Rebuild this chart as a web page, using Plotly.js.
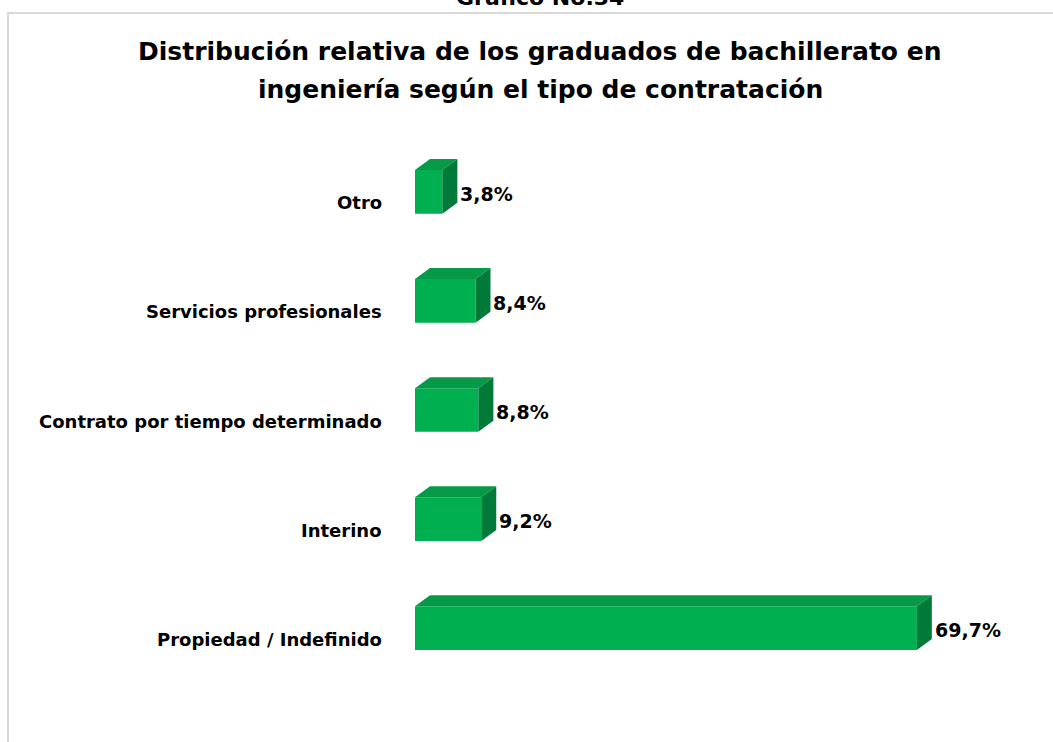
<!DOCTYPE html>
<html><head><meta charset="utf-8">
<script src="https://cdn.plot.ly/plotly-3.0.1.min.js"></script>
<style>body{margin:0;background:#fff}#chart{width:1053px;height:742px}</style>
</head><body><div id="chart"></div>
<script>
// Data (bottom to top)
const categories = ["Propiedad / Indefinido", "Interino", "Contrato por tiempo determinado", "Servicios profesionales", "Otro"];
const values = [69.7, 9.2, 8.8, 8.4, 3.8];
const valueLabels = ["69,7%", "9,2%", "8,8%", "8,4%", "3,8%"];
const titleLines = ["Distribución relativa de los graduados de bachillerato en", "ingeniería según el tipo de contratación"];
const supTitle = "Gráfico No.34";

const W = 1053, H = 742;
const margin = {l: 415, r: 26, t: 110, b: 32};
const xRange = [0, 85];
const yRange = [-0.75, 4.75];
const plotW = W - margin.l - margin.r, plotH = H - margin.t - margin.b;
const pxPerX = plotW / (xRange[1] - xRange[0]);
const pxPerY = plotH / (yRange[1] - yRange[0]);
const barW = 0.4;
const dx = 15 / pxPerX;   // depth in data units
const dy = 11 / pxPerY;

const front = '#00B050', topC = '#069A48', sideC = '#007A38';
const FONT = 'DejaVu Sans, sans-serif';

const pos = categories.map((c, i) => i);
const traces = [{
  type: 'bar', orientation: 'h', x: values, y: pos, width: barW,
  marker: {color: front, line: {width: 0}}, hoverinfo: 'skip'
}];

const shapes = [];
values.forEach((v, i) => {
  const y0 = i - barW / 2, y1 = i + barW / 2;
  shapes.push({type: 'path', xref: 'x', yref: 'y', layer: 'above',
    path: `M0,${y1} L${dx},${y1 + dy} L${v + dx},${y1 + dy} L${v},${y1} Z`,
    fillcolor: topC, line: {width: 0}});
  shapes.push({type: 'path', xref: 'x', yref: 'y', layer: 'above',
    path: `M${v},${y0} L${v},${y1} L${v + dx},${y1 + dy} L${v + dx},${y0 + dy} Z`,
    fillcolor: sideC, line: {width: 0}});
});
// outer border
const px2paperX = p => (p - margin.l) / plotW;
const px2paperY = p => (H - margin.b - p) / plotH;
shapes.push({type: 'path', xref: 'paper', yref: 'paper', layer: 'below',
  path: `M${px2paperX(1070)},${px2paperY(13)} L${px2paperX(8)},${px2paperY(13)} L${px2paperX(8)},${px2paperY(760)}`,
  line: {color: '#D9D9D9', width: 2}});

const annotations = [];
values.forEach((v, i) => {
  annotations.push({x: v + dx, y: i, xref: 'x', yref: 'y', text: '<b>' + valueLabels[i] + '</b>',
    showarrow: false, xanchor: 'left', yanchor: 'middle', xshift: 1, yshift: -2,
    font: {family: FONT, size: 19, color: '#000'}});
  annotations.push({x: 0, y: i, xref: 'x', yref: 'y', text: '<b>' + categories[i] + '</b>',
    showarrow: false, xanchor: 'right', yanchor: 'middle', xshift: -31, yshift: -11,
    font: {family: FONT, size: 18, color: '#000'}});
});
annotations.push({xref: 'paper', yref: 'paper', x: px2paperX(540), y: px2paperY(12),
  text: '<b>' + supTitle + '</b>', showarrow: false, xanchor: 'center', yanchor: 'bottom',
  font: {family: FONT, size: 22, color: '#000'}});
[52, 90].forEach((cy, k) => {
  annotations.push({xref: 'paper', yref: 'paper', x: px2paperX(540), y: px2paperY(cy),
    text: '<b>' + titleLines[k] + '</b>', showarrow: false, xanchor: 'center', yanchor: 'middle',
    font: {family: FONT, size: 25, color: '#000'}});
});

const layout = {
  width: W, height: H, margin: margin,
  paper_bgcolor: '#fff', plot_bgcolor: 'rgba(0,0,0,0)',
  showlegend: false,
  xaxis: {range: xRange, visible: false, fixedrange: true},
  yaxis: {range: yRange, tickvals: pos, ticktext: categories, showticklabels: false,
    showgrid: false, zeroline: false, showline: false, fixedrange: true},
  shapes: shapes, annotations: annotations
};
Plotly.newPlot('chart', traces, layout, {displayModeBar: false, staticPlot: true});
</script></body></html>
